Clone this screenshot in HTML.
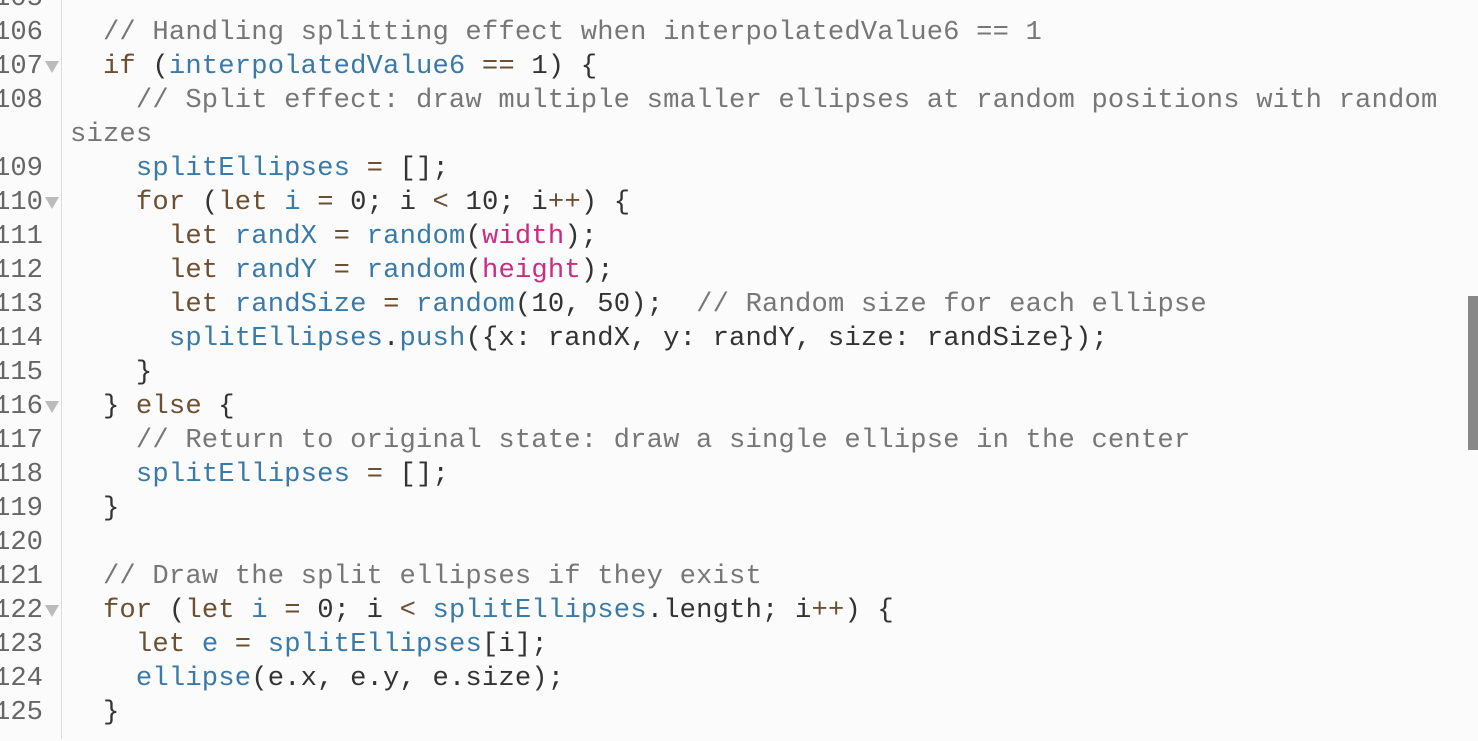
<!DOCTYPE html>
<html><head><meta charset="utf-8"><style>
html,body{margin:0;padding:0;width:1478px;height:739px;overflow:hidden;background:#fbfbfb;}
.g{position:absolute;left:61px;top:0;width:1px;height:739px;background:#dcdcdc;}
.r{position:absolute;left:70px;height:34px;line-height:34px;font-family:"Liberation Mono",monospace;font-size:27.2px;letter-spacing:0.16px;white-space:pre;color:#333;}
.n{position:absolute;right:1435px;height:34px;line-height:34px;font-family:"Liberation Mono",monospace;font-size:27.2px;color:#666;text-align:right;}
.t{position:absolute;left:45px;width:0;height:0;border-left:7px solid transparent;border-right:7px solid transparent;border-top:12px solid #bbb;}
.c{color:#777}.k{color:#6d4f32}.b{color:#3a7aa8}.m{color:#cc2c80}
.sb{position:absolute;left:1468px;top:296px;width:10px;height:154px;background:#888;}
.w{position:absolute;left:0;top:2px;width:1478px;height:739px;}
</style></head><body>
<div class="g"></div>
<div class="sb"></div>
<div class="w">
<div class="n" style="top:-20px">105</div>
<div class="n" style="top:14px">106</div>
<div class="n" style="top:48px">107</div>
<div class="n" style="top:82px">108</div>
<div class="n" style="top:150px">109</div>
<div class="n" style="top:184px">110</div>
<div class="n" style="top:218px">111</div>
<div class="n" style="top:252px">112</div>
<div class="n" style="top:286px">113</div>
<div class="n" style="top:320px">114</div>
<div class="n" style="top:354px">115</div>
<div class="n" style="top:388px">116</div>
<div class="n" style="top:422px">117</div>
<div class="n" style="top:456px">118</div>
<div class="n" style="top:490px">119</div>
<div class="n" style="top:524px">120</div>
<div class="n" style="top:558px">121</div>
<div class="n" style="top:592px">122</div>
<div class="n" style="top:626px">123</div>
<div class="n" style="top:660px">124</div>
<div class="n" style="top:694px">125</div>
<div class="t" style="top:59px"></div>
<div class="t" style="top:195px"></div>
<div class="t" style="top:399px"></div>
<div class="t" style="top:603px"></div>

<div class="r" style="top:14px"><span class="c">  // Handling splitting effect when interpolatedValue6 == 1</span></div>
<div class="r" style="top:48px">  <span class="k">if</span> (<span class="b">interpolatedValue6</span> <span class="k">==</span> 1) {</div>
<div class="r" style="top:82px"><span class="c">    // Split effect: draw multiple smaller ellipses at random positions with random</span></div>
<div class="r" style="top:116px"><span class="c">sizes</span></div>
<div class="r" style="top:150px">    <span class="b">splitEllipses</span> <span class="k">=</span> [];</div>
<div class="r" style="top:184px">    <span class="k">for</span> (<span class="k">let</span> <span class="b">i</span> <span class="k">=</span> 0; i <span class="k">&lt;</span> 10; i<span class="k">++</span>) {</div>
<div class="r" style="top:218px">      <span class="k">let</span> <span class="b">randX</span> <span class="k">=</span> <span class="b">random</span>(<span class="m">width</span>);</div>
<div class="r" style="top:252px">      <span class="k">let</span> <span class="b">randY</span> <span class="k">=</span> <span class="b">random</span>(<span class="m">height</span>);</div>
<div class="r" style="top:286px">      <span class="k">let</span> <span class="b">randSize</span> <span class="k">=</span> <span class="b">random</span>(10, 50);  <span class="c">// Random size for each ellipse</span></div>
<div class="r" style="top:320px">      <span class="b">splitEllipses</span>.<span class="b">push</span>({x: randX, y: randY, size: randSize});</div>
<div class="r" style="top:354px">    }</div>
<div class="r" style="top:388px">  } <span class="k">else</span> {</div>
<div class="r" style="top:422px"><span class="c">    // Return to original state: draw a single ellipse in the center</span></div>
<div class="r" style="top:456px">    <span class="b">splitEllipses</span> <span class="k">=</span> [];</div>
<div class="r" style="top:490px">  }</div>
<div class="r" style="top:558px"><span class="c">  // Draw the split ellipses if they exist</span></div>
<div class="r" style="top:592px">  <span class="k">for</span> (<span class="k">let</span> <span class="b">i</span> <span class="k">=</span> 0; i <span class="k">&lt;</span> <span class="b">splitEllipses</span>.length; i<span class="k">++</span>) {</div>
<div class="r" style="top:626px">    <span class="k">let</span> <span class="b">e</span> <span class="k">=</span> <span class="b">splitEllipses</span>[i];</div>
<div class="r" style="top:660px">    <span class="b">ellipse</span>(e.x, e.y, e.size);</div>
<div class="r" style="top:694px">  }</div>
</div>
</body></html>
